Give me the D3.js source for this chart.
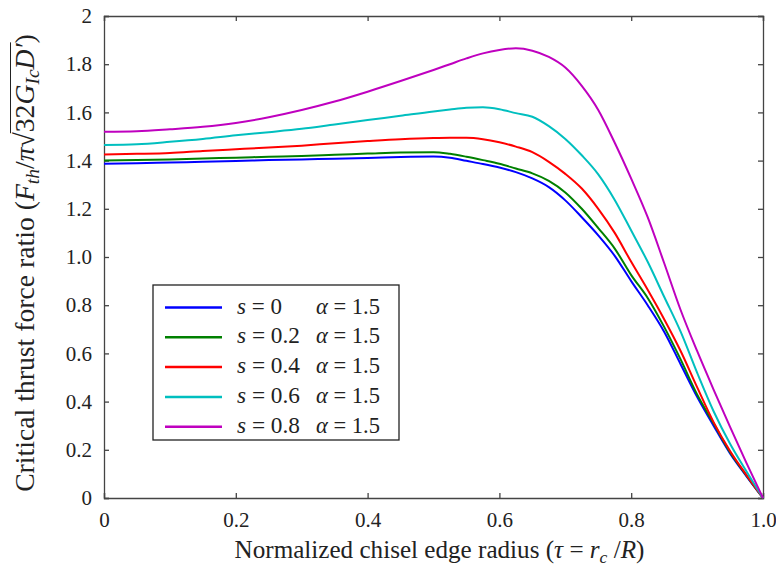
<!DOCTYPE html>
<html lang="en">
<head>
<meta charset="UTF-8">
<title>Critical thrust force ratio</title>
<script src="https://cdn.jsdelivr.net/npm/d3@7"></script>
<style>
  body { margin: 0; background: #fff; }
  svg { font-family: "Liberation Serif", "Times New Roman", serif; }
  .curve { fill: none; stroke-width: 2; }
</style>
</head>
<body>
<div id="chart"></div>
<script>
// normalized chisel edge radius, tau
const tau = [0, 0.05, 0.1, 0.15, 0.2, 0.25, 0.3, 0.35, 0.4, 0.45, 0.5, 0.525, 0.55, 0.575, 0.6,
  0.625, 0.65, 0.675, 0.7, 0.725, 0.75, 0.775, 0.8, 0.825, 0.85, 0.875, 0.9, 0.925, 0.95, 0.975, 1.0]

const ratioS0 = [1.387, 1.389, 1.392, 1.395, 1.398, 1.402, 1.405, 1.408, 1.411, 1.415, 1.417, 1.412, 1.399, 1.386, 1.371,
  1.352, 1.326, 1.29, 1.235, 1.165, 1.09, 1.005, 0.90, 0.80, 0.69, 0.555, 0.42, 0.30, 0.185, 0.09, 0]
const ratioS02 = [1.40, 1.402, 1.405, 1.409, 1.412, 1.416, 1.419, 1.424, 1.429, 1.434, 1.435, 1.428, 1.416, 1.402, 1.387,
  1.367, 1.347, 1.316, 1.268, 1.20, 1.12, 1.035, 0.925, 0.83, 0.71, 0.575, 0.43, 0.31, 0.19, 0.093, 0]
const ratioS04 = [1.425, 1.428, 1.432, 1.44, 1.447, 1.454, 1.462, 1.472, 1.481, 1.489, 1.494, 1.495, 1.495, 1.489, 1.476,
  1.458, 1.435, 1.395, 1.345, 1.284, 1.20, 1.10, 0.98, 0.864, 0.742, 0.61, 0.46, 0.315, 0.195, 0.095, 0]
const ratioS06 = [1.465, 1.468, 1.478, 1.49, 1.505, 1.518, 1.532, 1.55, 1.568, 1.586, 1.604, 1.612, 1.619, 1.621, 1.613,
  1.597, 1.582, 1.543, 1.49, 1.422, 1.343, 1.237, 1.11, 0.98, 0.835, 0.69, 0.52, 0.36, 0.225, 0.11, 0]
const ratioS08 = [1.52, 1.522, 1.53, 1.54, 1.556, 1.58, 1.61, 1.645, 1.686, 1.73, 1.776, 1.80, 1.824, 1.845, 1.859,
  1.866, 1.856, 1.83, 1.786, 1.71, 1.61, 1.474, 1.325, 1.165, 0.975, 0.78, 0.61, 0.45, 0.295, 0.145, 0]

const sValues = ['0', '0.2', '0.4', '0.6', '0.8']
const alphaValue = '1.5'
const colors = ['#0000ff', '#008000', '#ff0000', '#00bfbf', '#bf00bf']

const xTicks = [0, 0.2, 0.4, 0.6, 0.8, 1.0]
const xTickLabels = ['0', '0.2', '0.4', '0.6', '0.8', '1.0']
const yTicks = [0, 0.2, 0.4, 0.6, 0.8, 1.0, 1.2, 1.4, 1.6, 1.8, 2]
const yTickLabels = ['0', '0.2', '0.4', '0.6', '0.8', '1.0', '1.2', '1.4', '1.6', '1.8', '2']

const allSeries = [ratioS0, ratioS02, ratioS04, ratioS06, ratioS08]

const W = 776, H = 575
const margin = { top: 16, right: 13, bottom: 77, left: 104 }
const width = W - margin.left - margin.right
const height = H - margin.top - margin.bottom

const svg = d3.select('#chart').append('svg')
  .attr('width', W)
  .attr('height', H)

const chart = svg.append('g')
  .attr('transform', `translate(${margin.left}, ${margin.top})`)

// scales
const xScale = d3.scaleLinear().domain([0, 1]).range([0, width])
const yScale = d3.scaleLinear().domain([0, 2]).range([height, 0])

// axes, ticks pointing inward on all four sides
const axisColor = '#444'
const tickLen = 5

const xAxis = d3.axisBottom(xScale).tickValues(xTicks).tickSize(-tickLen)
  .tickFormat((d, i) => xTickLabels[i]).tickPadding(12)
const yAxis = d3.axisLeft(yScale).tickValues(yTicks).tickSize(-tickLen)
  .tickFormat((d, i) => yTickLabels[i]).tickPadding(12)
const xTop = d3.axisTop(xScale).tickValues(xTicks).tickSize(-tickLen).tickFormat('')
const yRight = d3.axisRight(yScale).tickValues(yTicks).tickSize(-tickLen).tickFormat('')

const gx = chart.append('g').attr('transform', `translate(0, ${height})`).call(xAxis)
const gy = chart.append('g').call(yAxis)
chart.append('g').call(xTop)
chart.append('g').attr('transform', `translate(${width}, 0)`).call(yRight)

chart.selectAll('g').attr('font-family', null).attr('font-size', null)
chart.selectAll('.domain').attr('stroke', axisColor).attr('stroke-width', 1.3)
chart.selectAll('.tick line').attr('stroke', axisColor).attr('stroke-width', 1.3)
chart.selectAll('.tick text')
  .attr('fill', '#222')
  .style('font-size', '21px')
gx.selectAll('.tick text').attr('dy', '0.8em')

// curves
const line = d3.line()
  .x((d, i) => xScale(tau[i]))
  .y(d => yScale(d))
  .curve(d3.curveMonotoneX)

chart.selectAll('.curve')
  .data(allSeries)
  .enter()
  .append('path')
  .attr('class', 'curve')
  .attr('stroke', (d, i) => colors[i])
  .attr('d', line)

// scale a text's font so it spans the wanted length
function fit(text, base, wanted) {
  text.style('font-size', base + 'px')
  const len = text.node().getComputedTextLength()
  text.style('font-size', (base * wanted / len) + 'px')
}

// legend
const legend = svg.append('g')
  .attr('class', 'legend')
  .attr('transform', 'translate(153, 285)')

legend.append('rect')
  .attr('width', 246)
  .attr('height', 155)
  .attr('fill', '#fff')
  .attr('stroke', '#222')
  .attr('stroke-width', 1.3)

const rowH = 29.8
sValues.forEach((s, i) => {
  const y = 22.5 + i * rowH
  legend.append('line')
    .attr('x1', 12).attr('x2', 69)
    .attr('y1', y).attr('y2', y)
    .attr('stroke', colors[i])
    .attr('stroke-width', 2.5)

  const t1 = legend.append('text').attr('x', 84).attr('y', y + 6).attr('fill', '#222')
  t1.append('tspan').style('font-style', 'italic').text('s')
  t1.append('tspan').text(' = ' + s)
  fit(t1, 19, s.length > 1 ? 63 : 45)

  const t2 = legend.append('text').attr('x', 163).attr('y', y + 6).attr('fill', '#222')
  t2.append('tspan').style('font-style', 'italic').text('α')
  t2.append('tspan').text(' = ' + alphaValue)
  fit(t2, 19, 64)
})

// x axis label
const xl = svg.append('text')
  .attr('x', margin.left + width / 2 + 6)
  .attr('y', 558)
  .attr('text-anchor', 'middle')
  .attr('fill', '#222')
xl.append('tspan').text('Normalized chisel edge radius (')
xl.append('tspan').style('font-style', 'italic').text('τ')
xl.append('tspan').text(' = ')
xl.append('tspan').style('font-style', 'italic').text('r')
xl.append('tspan').style('font-style', 'italic').style('font-size', '0.7em').attr('dy', 5).text('c')
xl.append('tspan').attr('dy', -5).text(' /')
xl.append('tspan').style('font-style', 'italic').text('R')
xl.append('tspan').text(')')
fit(xl, 20, 410)

// y axis label, drawn horizontally then rotated
const yg = svg.append('g')
  .attr('transform', 'translate(34, 263) rotate(-90)')
const yl = yg.append('text')
  .attr('x', 0).attr('y', 0)
  .attr('text-anchor', 'middle')
  .attr('fill', '#222')

const pieces = [
  { t: 'Critical thrust force ratio (', it: false },
  { t: 'F', it: true },
  { t: 'th', it: true, sub: true },
  { t: '/', it: false, up: true },
  { t: 'π', it: true },
  { t: '√', it: false },
  { t: '32', it: false, over: true },
  { t: 'G', it: true, over: true },
  { t: 'Ic', it: true, sub: true, over: true },
  { t: 'D′', it: true, over: true, up: true },
  { t: ')', it: false }
]
let charIdx = 0
const overIdx = []
pieces.forEach(p => {
  const ts = yl.append('tspan').text(p.t)
  if (p.it) ts.style('font-style', 'italic')
  if (p.sub) ts.attr('dy', 5).style('font-size', '0.7em')
  if (p.up) ts.attr('dy', -5)
  if (p.over) for (let k = 0; k < p.t.length; k++) overIdx.push(charIdx + k)
  charIdx += p.t.length
})
fit(yl, 20, 458)

// overline of the square root
const node = yl.node()
const last = node.getExtentOfChar(overIdx[overIdx.length - 1])
const rootBox = node.getExtentOfChar(overIdx[0] - 1)
yg.append('line')
  .attr('x1', rootBox.x + rootBox.width - 1)
  .attr('x2', last.x + last.width + 1)
  .attr('y1', rootBox.y + 1.5)
  .attr('y2', rootBox.y + 1.5)
  .attr('stroke', '#222')
  .attr('stroke-width', 1)
</script>
</body>
</html>
